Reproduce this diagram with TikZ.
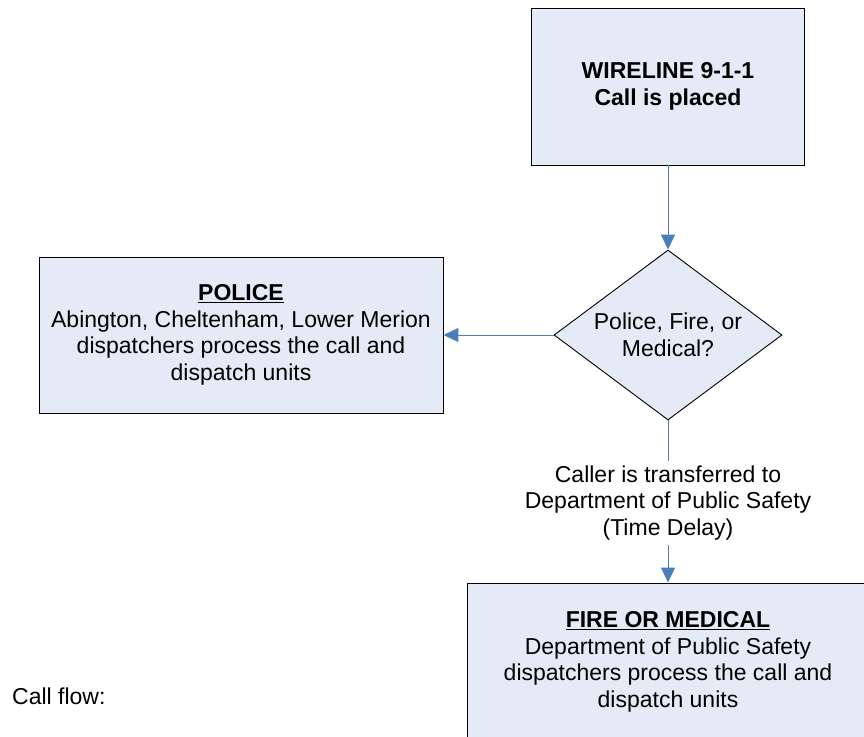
\documentclass[tikz,border=0pt]{standalone}
\usepackage{fontspec}
\setmainfont{Liberation Sans}
\usetikzlibrary{shapes.geometric,arrows.meta}
\definecolor{boxfill}{RGB}{228,235,246}
\definecolor{flowblue}{RGB}{74,126,187}

\begin{document}
\begin{tikzpicture}[x=1pt,y=-1pt,
    every node/.style={font=\fontsize{23}{26.5}\selectfont, align=center},
    box/.style={draw=black, fill=boxfill, line width=0.9pt, inner sep=0pt},
    decision/.style={diamond, draw=black, fill=boxfill, line width=0.9pt,
      inner sep=0pt, aspect=1.34},
    flow/.style={draw=flowblue, line width=1pt}]
  \clip (0,0) rectangle (864,736);
  \draw
    (668,86.5) node[box, minimum width=273pt, minimum height=157pt] (call)
      {\textbf{WIRELINE 9-1-1}\\\textbf{Call is placed}}
    (668,335) node[decision, minimum width=228pt, minimum height=170pt] (choice)
      {Police, Fire, or\\Medical?}
    (241,335) node[box, minimum width=404pt, minimum height=156pt] (police)
      {\underline{\textbf{POLICE}}\\Abington, Cheltenham, Lower Merion\\
       dispatchers process the call and\\dispatch units}
    (668,503) node[inner sep=5pt] (transfer)
      {Caller is transferred to\\Department of Public Safety\\(Time Delay)}
    (668,662) node[box, minimum width=402pt, minimum height=158pt] (fire)
      {\underline{\textbf{FIRE OR MEDICAL}}\\Department of Public Safety\\
       dispatchers process the call and\\dispatch units}
    (12,696.6) node[anchor=west, inner sep=0pt] (title) {Call flow:};
  \begin{scope}[flow, -{Triangle[length=15pt,width=14pt]}]
    \draw (call) to (choice);
    \draw (choice) to (police);
    \draw[-] (choice) to (transfer);
    \draw (transfer) to (fire);
  \end{scope}
\end{tikzpicture}
\end{document}
